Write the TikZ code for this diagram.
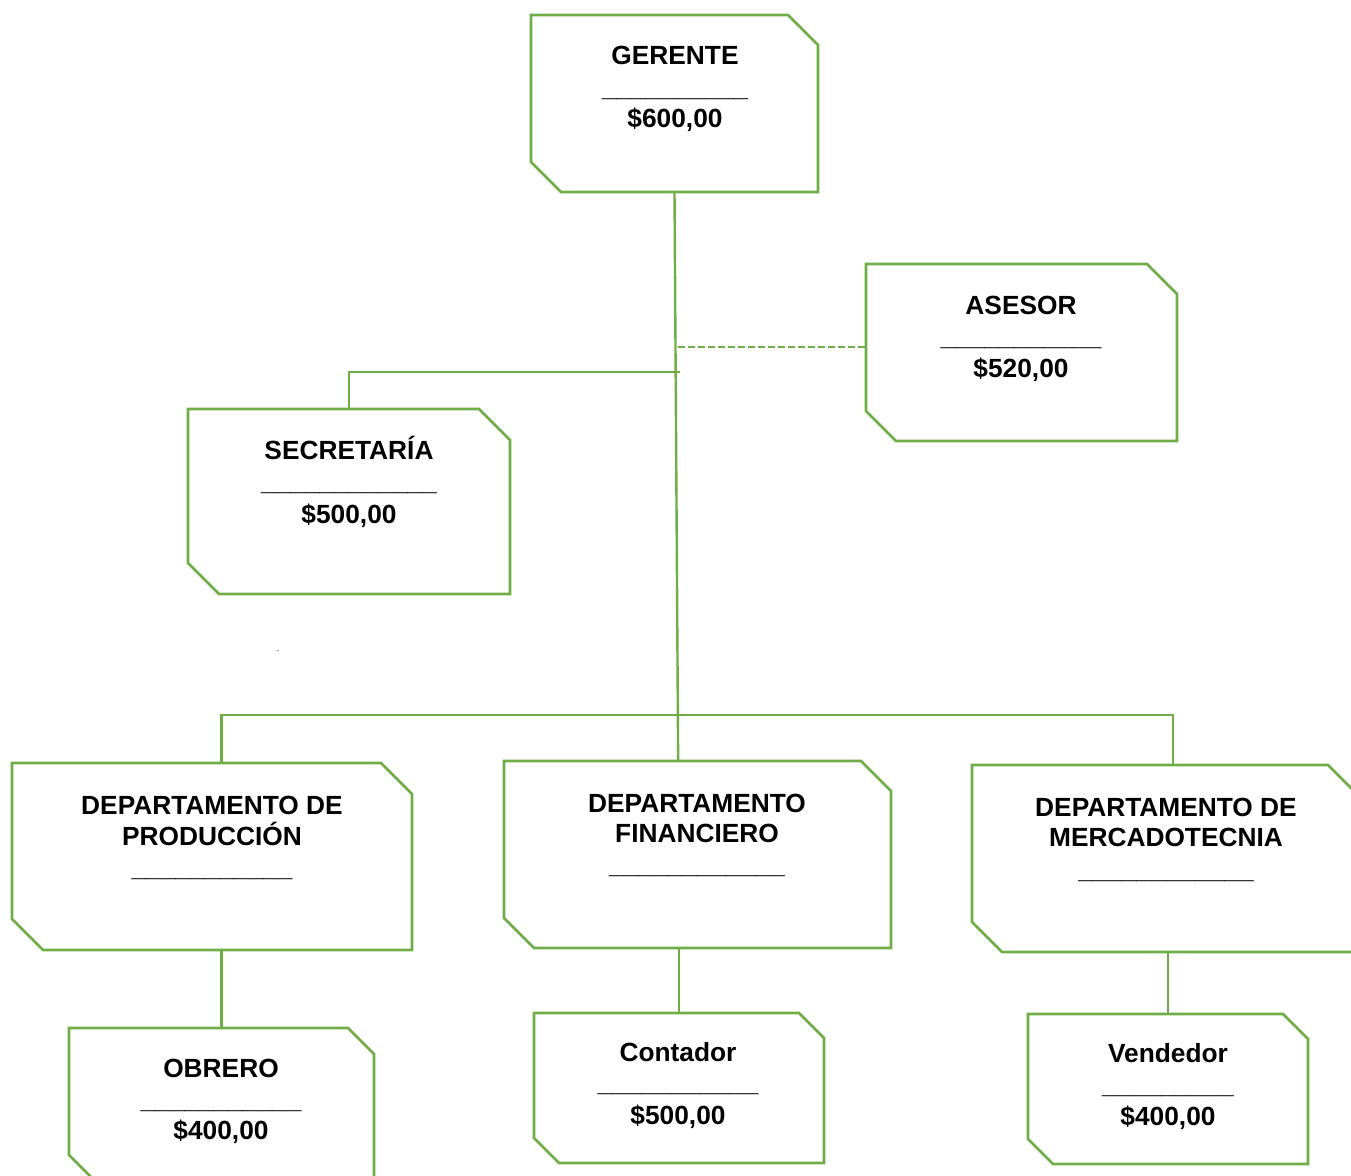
\documentclass[tikz,border=0pt]{standalone}
\usepackage{fontspec}
\setmainfont{Liberation Sans}
\usetikzlibrary{calc}
\definecolor{boxgreen}{RGB}{112,173,71}
\newcommand{\cutbox}[2]{%
  \draw[boxline] (#1.north west) -- ($(#1.north east)+(-#2pt,0pt)$) -- ($(#1.north east)+(0pt,-#2pt)$)
    -- (#1.south east) -- ($(#1.south west)+(#2pt,0pt)$) -- ($(#1.south west)+(0pt,#2pt)$) -- cycle;}
\newcommand{\uline}[1]{\foreach \i in {1,...,#1}{\_}}
\begin{document}
\begin{tikzpicture}[x=1pt,y=-1pt,
  frame/.style={draw=none, inner sep=0pt, outer sep=0pt, rectangle},
  boxline/.style={draw=boxgreen, line width=2.6pt, line join=miter},
  conn/.style={draw=boxgreen, line width=2.4pt},
  lbl/.style={font=\fontsize{26.3}{31}\selectfont\bfseries, anchor=base, inner sep=0pt},
]
\useasboundingbox (0,0) rectangle (1351,1175);
\clip (0,0) rectangle (1351,1175);

% box frames
\node[frame, minimum width=287pt, minimum height=177pt] (ger) at (674.5,103.5) {};
\node[frame, minimum width=311pt, minimum height=177pt] (ase) at (1021.5,352.5) {};
\node[frame, minimum width=322pt, minimum height=185pt] (sec) at (349,501.5) {};
\node[frame, minimum width=400pt, minimum height=187pt] (pro) at (212,856.5) {};
\node[frame, minimum width=387pt, minimum height=187pt] (fin) at (697.5,854.5) {};
\node[frame, minimum width=386pt, minimum height=187pt] (mer) at (1165,858.5) {};
\node[frame, minimum width=305pt, minimum height=153pt] (obr) at (221.5,1104.5) {};
\node[frame, minimum width=290pt, minimum height=150pt] (con) at (679,1088) {};
\node[frame, minimum width=280pt, minimum height=150pt] (ven) at (1168,1089) {};

\cutbox{ger}{30}
\cutbox{ase}{30}
\cutbox{sec}{31}
\cutbox{pro}{31}
\cutbox{fin}{30}
\cutbox{mer}{30}
\cutbox{obr}{26}
\cutbox{con}{25}
\cutbox{ven}{25}

% connectors
\coordinate (sj) at (680,372);
\coordinate (dj) at (678,347);
\coordinate (bus) at (678,715);
\coordinate (busR) at (1173,715);
\draw[conn] (ger.south) -- ($(fin.north west)!0.45!(fin.north east)$);
\draw[conn] (sec.north) |- (sj);
\draw[conn, dashed, dash pattern=on 7pt off 3pt] (dj) -- (dj -| ase.west);
\draw[conn] (pro.north -| obr.north) -- (bus -| obr.north) -- (busR) -- (busR |- mer.north);
\draw[conn] (obr.north |- pro.south) -- (obr.north);
\draw[conn] (con.north |- fin.south) -- (con.north);
\draw[conn] (ven.north |- mer.south) -- (ven.north);

% texts
\node[lbl] (gerT) at (675,64) {GERENTE};
\node[lbl] (gerU) at (675,96) {\uline{10}};
\node[lbl] (gerS) at (675,127) {\$600,00};

\node[lbl] (aseT) at (1021,314) {ASESOR};
\node[lbl] (aseU) at (1021,345) {\uline{11}};
\node[lbl] (aseS) at (1021,377) {\$520,00};

\node[lbl] (secT) at (349,459) {SECRETARÍA};
\node[lbl] (secU) at (349,490) {\uline{12}};
\node[lbl] (secS) at (349,523) {\$500,00};

\node[lbl] (proT) at (212,814) {DEPARTAMENTO DE};
\node[lbl] (proT2) at (212,845) {PRODUCCIÓN};
\node[lbl] (proU) at (212,876) {\uline{11}};

\node[lbl] (finT) at (697,812) {DEPARTAMENTO};
\node[lbl] (finT2) at (697,842) {FINANCIERO};
\node[lbl] (finU) at (697,873) {\uline{12}};

\node[lbl] (merT) at (1166,816) {DEPARTAMENTO DE};
\node[lbl] (merT2) at (1166,846) {MERCADOTECNIA};
\node[lbl] (merU) at (1166,878) {\uline{12}};

\node[lbl] (obrT) at (221,1077) {OBRERO};
\node[lbl] (obrU) at (221,1108) {\uline{11}};
\node[lbl] (obrS) at (221,1139) {\$400,00};

\node[lbl] (conT) at (678,1061) {Contador};
\node[lbl] (conU) at (678,1091) {\uline{11}};
\node[lbl] (conS) at (678,1124) {\$500,00};

\node[lbl] (venT) at (1168,1062) {Vendedor};
\node[lbl] (venU) at (1168,1093) {\uline{9}};
\node[lbl] (venS) at (1168,1125) {\$400,00};

\node[font=\fontsize{8}{8}\selectfont, inner sep=0pt, anchor=base] (dot) at (278,651) {.};
\end{tikzpicture}
\end{document}
